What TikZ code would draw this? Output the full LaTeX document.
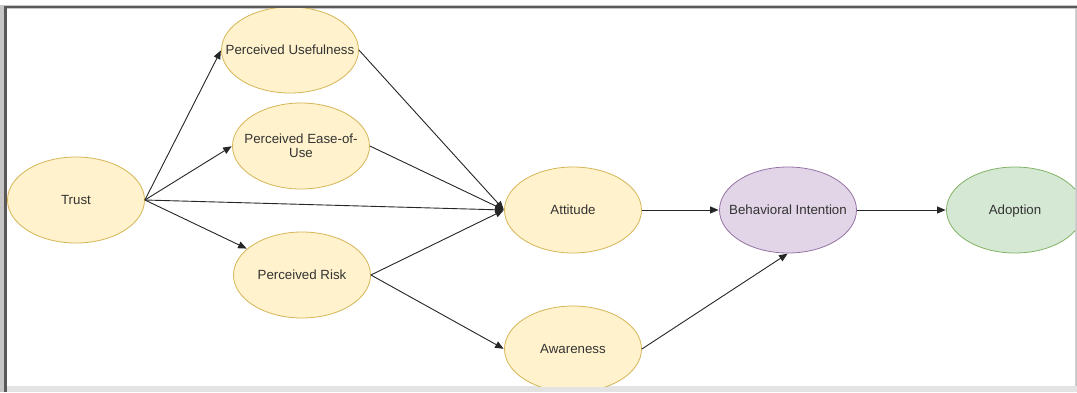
\documentclass[tikz,border=0pt]{standalone}
\usepackage{fontspec}
\setmainfont{Liberation Sans}
\usetikzlibrary{shapes.geometric,arrows.meta}
\definecolor{yfill}{HTML}{FFF2CC}
\definecolor{ydraw}{HTML}{D6B656}
\definecolor{pfill}{HTML}{E1D5E7}
\definecolor{pdraw}{HTML}{9673A6}
\definecolor{gfill}{HTML}{D5E8D4}
\definecolor{gdraw}{HTML}{82B366}
\definecolor{txt}{HTML}{333333}
\newcommand{\lab}[1]{\makebox[0pt]{\raisebox{-5pt}[0pt][0pt]{\begin{tabular}{@{}c@{}}#1\end{tabular}}}}
\begin{document}
\begin{tikzpicture}[x=1pt,y=-1pt,
  ell/.style={ellipse, line width=0.8pt, inner sep=0pt, minimum width=137pt, minimum height=86pt,
    font=\fontsize{13.3}{14.5}\selectfont, text=txt},
  yel/.style={ell, fill=yfill, draw=ydraw},
  pel/.style={ell, fill=pfill, draw=pdraw},
  gel/.style={ell, fill=gfill, draw=gdraw},
  arr/.style={-{Triangle[length=8.5pt,width=7pt]}, line width=0.9pt, draw=black!85, shorten >=0.5pt}
]
\useasboundingbox (0,0) rectangle (1077,392);
% frame
\fill[gray!45] (0,5) rectangle (1077,392);
\fill[white] (7,9) rectangle (1075,386);
\fill[gray!22] (7,386) rectangle (1077,392);
\draw[black!65, line width=2.5pt] (5.5,392) -- (5.5,7) -- (1077,7);
\draw[gray!35, line width=1.2pt] (1075.5,9) -- (1075.5,386);

\begin{scope}
\clip (7,8) rectangle (1075,386);
\node[yel] (trust) at (76,200) {\lab{Trust}};
\node[yel] (pu)    at (290,50) {\lab{Perceived Usefulness}};
\node[yel] (peou)  at (301,146) {\lab{Perceived Ease-of-\\Use}};
\node[yel] (pr)    at (302,275) {\lab{Perceived Risk}};
\node[yel] (att)   at (573,210) {\lab{Attitude}};
\node[pel] (bi)    at (788,210) {\lab{Behavioral Intention}};
\node[gel] (adopt) at (1015,210) {\lab{Adoption}};
\node[yel] (aware) at (573,349) {\lab{Awareness}};
\end{scope}

\draw[arr] (trust.east) -- (pu.west);
\draw[arr] (trust.east) -- (peou.west);
\draw[arr] (trust.east) -- (att.west);
\draw[arr] (trust.east) -- (pr);
\draw[arr] (pu.east) -- (att.west);
\draw[arr] (peou.east) -- (att.west);
\draw[arr] (pr.east) -- (att.west);
\draw[arr] (pr.east) -- (aware.west);
\draw[arr] (att.east) -- (bi.west);
\draw[arr] (aware.east) -- (bi.south);
\draw[arr] (bi.east) -- (adopt.west);
\end{tikzpicture}
\end{document}
